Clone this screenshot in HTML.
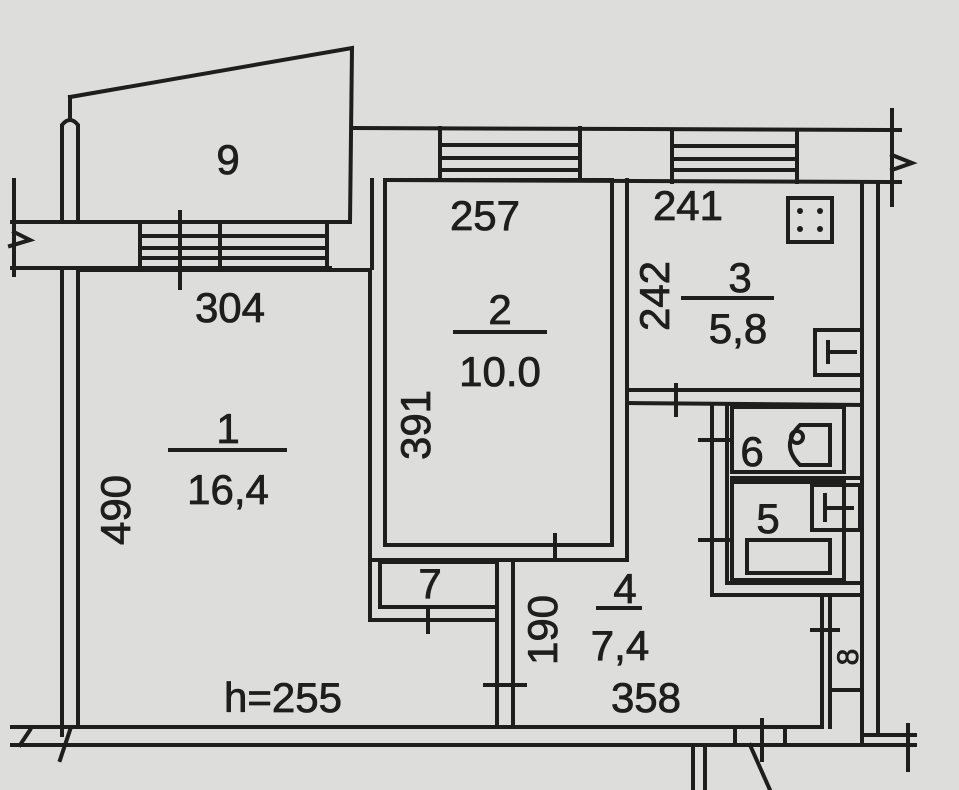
<!DOCTYPE html>
<html><head><meta charset="utf-8"><style>
html,body{margin:0;padding:0;background:#dddddb;}
svg{display:block}
text{font-family:"Liberation Sans",sans-serif;fill:#1e1e1e;font-size:42px;stroke:#1e1e1e;stroke-width:0.8px;}
</style></head><body>
<svg width="959" height="790" viewBox="0 0 959 790" xmlns="http://www.w3.org/2000/svg">
<rect width="959" height="790" fill="#dddddb"/>
<g stroke="#1e1e1e" stroke-width="4" fill="none" stroke-linecap="square">
<!-- balcony 9 -->
<polyline points="70,97 352,48 350,222"/>
<line x1="330" y1="222" x2="350" y2="222"/>
<line x1="70" y1="97" x2="70" y2="118"/>
<path d="M62,222 V125 Q70,115 78,125 V222"/>
<!-- balcony wall band -->
<line x1="12" y1="222" x2="330" y2="222"/>
<line x1="12" y1="268" x2="330" y2="268"/>
<path d="M14,180 V275 M14,232 L30,240 L10,246"/>
<line x1="140" y1="222" x2="140" y2="268"/>
<line x1="327" y1="222" x2="327" y2="268"/>
<line x1="140" y1="236" x2="327" y2="236"/>
<line x1="140" y1="248" x2="327" y2="248"/>
<line x1="140" y1="258" x2="327" y2="258"/>
<line x1="180" y1="212" x2="180" y2="288"/>
<line x1="220" y1="222" x2="220" y2="268"/>
<!-- left outer wall -->
<line x1="62" y1="268" x2="62" y2="735"/>
<line x1="78" y1="268" x2="78" y2="727"/>
<!-- top wall -->
<line x1="352" y1="128" x2="900" y2="130"/>
<line x1="385" y1="180" x2="900" y2="182"/>
<line x1="440" y1="128" x2="440" y2="180"/>
<line x1="580" y1="128" x2="580" y2="180"/>
<line x1="440" y1="145" x2="580" y2="145"/>
<line x1="440" y1="158" x2="580" y2="158"/>
<line x1="440" y1="170" x2="580" y2="170"/>
<line x1="672" y1="130" x2="672" y2="182"/>
<line x1="797" y1="130" x2="797" y2="182"/>
<line x1="672" y1="146" x2="797" y2="146"/>
<line x1="672" y1="159" x2="797" y2="159"/>
<line x1="672" y1="170" x2="797" y2="170"/>
<path d="M892,110 V205 M892,155 L912,163 L892,170"/>
<!-- room 1 top / room 2 outer -->
<polyline points="78,270 370,270 370,620 497,620"/>
<line x1="372" y1="180" x2="372" y2="268"/>
<!-- room 2 -->
<rect x="385" y="180" width="227" height="365"/>
<polyline points="627,180 627,560 372,560"/>
<line x1="555" y1="535" x2="555" y2="560"/>
<!-- closet 7 -->
<rect x="380" y="562" width="117" height="45"/>
<line x1="428" y1="607" x2="428" y2="632"/>
<!-- corridor wall -->
<line x1="497" y1="562" x2="497" y2="727"/>
<line x1="513" y1="562" x2="513" y2="727"/>
<line x1="485" y1="685" x2="525" y2="685"/>
<!-- room 3 -->
<line x1="627" y1="390" x2="862" y2="390"/>
<line x1="627" y1="403" x2="862" y2="405"/>
<line x1="676" y1="385" x2="676" y2="415"/>
<rect x="788" y="198" width="44" height="44"/>
<rect x="815" y="330" width="47" height="45"/>
<path d="M828,342 V362 M828,352 H855"/>
<!-- right outer wall -->
<line x1="862" y1="182" x2="862" y2="745"/>
<line x1="878" y1="182" x2="878" y2="735"/>
<!-- bathroom block -->
<polyline points="712,405 712,595 862,595"/>
<polyline points="727,405 727,583 862,583"/>
<rect x="732" y="407" width="112" height="65"/>
<rect x="732" y="482" width="112" height="98"/>
<line x1="732" y1="478" x2="862" y2="478"/>
<rect x="812" y="485" width="48" height="45"/>
<path d="M825,495 V520 M825,508 H852"/>
<rect x="747" y="540" width="83" height="33"/>
<path d="M800,425 H830 V465 H800 Q780,445 800,425Z"/>
<circle cx="797" cy="437" r="6"/>
<line x1="700" y1="440" x2="730" y2="440"/>
<line x1="700" y1="540" x2="730" y2="540"/>
<!-- room 8 -->
<line x1="822" y1="595" x2="822" y2="727"/>
<line x1="830" y1="595" x2="830" y2="727"/>
<line x1="830" y1="690" x2="862" y2="690"/>
<line x1="812" y1="630" x2="838" y2="630"/>
<!-- bottom wall -->
<line x1="12" y1="727" x2="822" y2="727"/>
<line x1="12" y1="745" x2="915" y2="745"/>
<path d="M862,735 H915 M908,725 V770"/>
<path d="M30,730 L20,745 M60,760 L70,730"/>
<line x1="735" y1="727" x2="735" y2="745"/>
<line x1="785" y1="727" x2="785" y2="745"/>
<line x1="762" y1="720" x2="762" y2="760"/>
<line x1="693" y1="745" x2="693" y2="790"/>
<line x1="705" y1="745" x2="705" y2="790"/>
<line x1="750" y1="745" x2="770" y2="790"/>
<!-- fraction bars -->
<line x1="170" y1="450" x2="285" y2="450"/>
<line x1="455" y1="332" x2="545" y2="332"/>
<line x1="683" y1="298" x2="772" y2="298"/>
<line x1="598" y1="608" x2="640" y2="608"/>
</g>
<g fill="#1e1e1e">
<circle cx="800" cy="211" r="3"/><circle cx="820" cy="211" r="3"/>
<circle cx="800" cy="229" r="3"/><circle cx="820" cy="229" r="3"/>
</g>
<text x="228" y="174" text-anchor="middle">9</text>
<text x="485" y="230" text-anchor="middle">257</text>
<text x="688" y="220" text-anchor="middle">241</text>
<text x="230" y="322" text-anchor="middle">304</text>
<text x="500" y="324" text-anchor="middle">2</text>
<text x="500" y="386" text-anchor="middle">10.0</text>
<text x="228" y="443" text-anchor="middle">1</text>
<text x="228" y="504" text-anchor="middle">16,4</text>
<text x="740" y="292" text-anchor="middle">3</text>
<text x="738" y="343" text-anchor="middle">5,8</text>
<text x="752" y="466" text-anchor="middle">6</text>
<text x="768" y="533" text-anchor="middle">5</text>
<text x="430" y="598" text-anchor="middle">7</text>
<text x="625" y="603" text-anchor="middle">4</text>
<text x="620" y="660" text-anchor="middle">7,4</text>
<text x="283" y="712" text-anchor="middle">h=255</text>
<text x="646" y="712" text-anchor="middle">358</text>
<text transform="translate(130,510) rotate(-90)" text-anchor="middle">490</text>
<text transform="translate(430,425) rotate(-90)" text-anchor="middle">391</text>
<text transform="translate(669,296) rotate(-90)" text-anchor="middle">242</text>
<text transform="translate(557,630) rotate(-90)" text-anchor="middle">190</text>
<text transform="translate(858,657) rotate(-90)" text-anchor="middle" style="font-size:30px">8</text>
</svg>
</body></html>
